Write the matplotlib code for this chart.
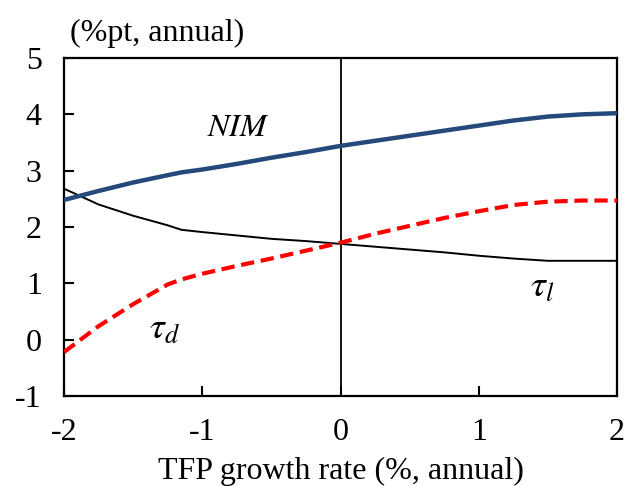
import matplotlib
matplotlib.use("Agg")
import matplotlib.pyplot as plt

plt.rcParams["font.family"] = ["Liberation Serif", "DejaVu Serif"]
plt.rcParams["mathtext.fontset"] = "stix"
plt.rcParams["axes.unicode_minus"] = False

NAVY, RED, BLACK = "#24497a", "#ff0000", "#000000"

# TFP growth rate grid (%, annual)
x = [-2.0, -1.75, -1.5, -1.25, -1.15, -1.0, -0.75, -0.5, -0.25, 0.0,
     0.25, 0.5, 0.75, 1.0, 1.25, 1.5, 1.75, 2.0]
nim = [2.48, 2.64, 2.79, 2.92, 2.97, 3.02, 3.12, 3.23, 3.33, 3.44,
       3.53, 3.62, 3.71, 3.80, 3.89, 3.96, 4.00, 4.02]
tau_l = [2.68, 2.40, 2.20, 2.03, 1.95, 1.91, 1.85, 1.79, 1.75, 1.70,
         1.65, 1.60, 1.55, 1.49, 1.44, 1.40, 1.40, 1.40]
tau_d = [-0.22, 0.24, 0.63, 0.98, 1.07, 1.17, 1.31, 1.44, 1.58, 1.72,
         1.88, 2.02, 2.16, 2.28, 2.39, 2.45, 2.47, 2.47]

fig = plt.figure(figsize=(6.3, 4.86), dpi=100)
ax = fig.add_axes([64 / 630, 1 - 396 / 486, 553 / 630, 338 / 486])

ax.axvline(0, color=BLACK, lw=1.3, zorder=1)
ax.plot(x, tau_l, color=BLACK, lw=1.4, zorder=3)
ax.plot(x, tau_d, color=RED, lw=3, dashes=(3.2, 1.6), zorder=4)
ax.plot(x, nim, color=NAVY, lw=3.2, zorder=5)

ax.text(-0.74, 3.74, r"$NIM$", fontsize=23, ha="center", va="center")
ax.text(-1.27, 0.17, r"$\tau_d$", fontsize=27, ha="center", va="center")
ax.text(1.46, 0.92, r"$\tau_l$", fontsize=27, ha="center", va="center")

ax.set_xlim(-2, 2)
ax.set_ylim(-1, 5)
ax.set_xticks([-2, -1, 0, 1, 2])
ax.set_yticks([-1, 0, 1, 2, 3, 4, 5])
ax.tick_params(direction="in", length=7, width=1.5, labelsize=23)
ax.tick_params(axis="x", pad=16)
ax.tick_params(axis="y", pad=16)
for sp in ax.spines.values():
    sp.set_linewidth(1.6)

ax.set_xlabel("TFP growth rate (%, annual)", fontsize=23, labelpad=7)
ax.text(0.01, 1.074, "(%pt, annual)", transform=ax.transAxes, fontsize=23,
        ha="left", va="center")

fig.savefig("out.png", dpi=100, facecolor="white")
